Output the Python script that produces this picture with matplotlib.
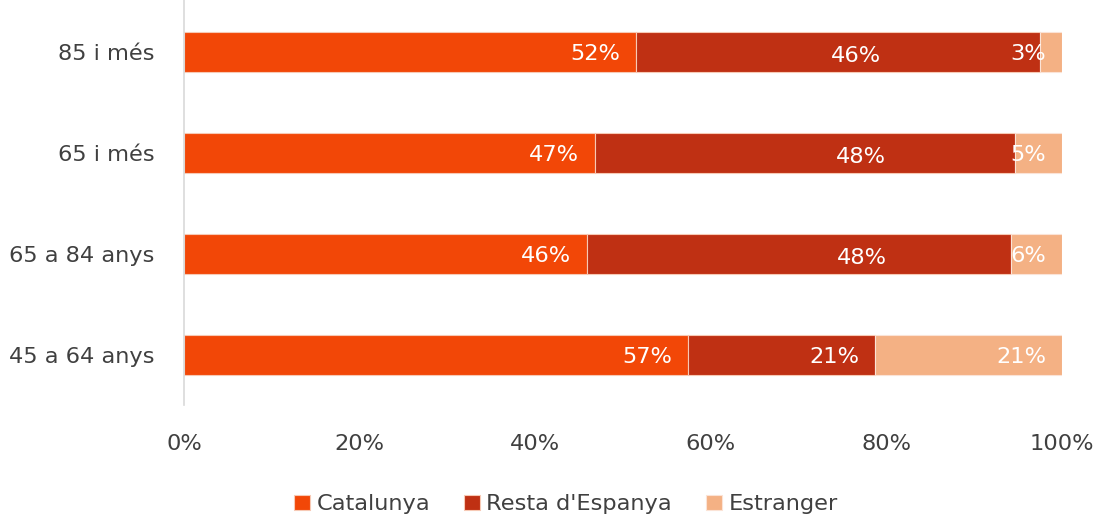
import matplotlib.pyplot as plt
import numpy as np

plt.rcParams['font.family'] = ['DejaVu Sans']

categories = ["45 a 64 anys", "65 a 84 anys", "65 i més", "85 i més"]
catalunya = [57.4, 45.9, 46.8, 51.5]
resta = [21.3, 48.3, 47.8, 46.0]
estranger = [21.3, 5.8, 5.4, 2.5]
labels_cat = ["57%", "46%", "47%", "52%"]
labels_resta = ["21%", "48%", "48%", "46%"]
labels_estr = ["21%", "6%", "5%", "3%"]

# where the Resta labels sit in the original (x, in %)
resta_label_x = [76.8, 77.2, 77.1, 76.5]

c_cat = "#F24707"
c_resta = "#BF3013"
c_estr = "#F4B184"

fig = plt.figure(figsize=(11.03, 5.19), dpi=100)
ax = fig.add_axes([184/1103, 1-405/519, 878/1103, 405/519])

y = np.arange(len(categories))
h = 0.4
left2 = np.array(catalunya)
left3 = left2 + np.array(resta)
ax.barh(y, catalunya, height=h, color=c_cat, edgecolor="#f7c9b5", linewidth=0.8, label="Catalunya")
ax.barh(y, resta, left=left2, height=h, color=c_resta, edgecolor="#f7c9b5", linewidth=0.8, label="Resta d'Espanya")
ax.barh(y, estranger, left=left3, height=h, color=c_estr, edgecolor="#fbe3d6", linewidth=0.8, label="Estranger")

fs = 16.2
pad = 1.8
for i in range(len(categories)):
    ax.text(catalunya[i] - pad, y[i] - 0.02, labels_cat[i], color="white", fontsize=fs, ha="right", va="center")
    if i == 0:
        ax.text(left3[i] - pad, y[i] - 0.02, labels_resta[i], color="white", fontsize=fs, ha="right", va="center")
    else:
        ax.text(resta_label_x[i], y[i] - 0.04, labels_resta[i], color="white", fontsize=fs, ha="center", va="center")
    ax.text(100 - pad, y[i] - 0.02, labels_estr[i], color="white", fontsize=fs, ha="right", va="center")

ax.set_xlim(0, 100)
ax.set_ylim(-0.495, 3.515)
ax.set_xticks([0, 20, 40, 60, 80, 100])
ax.set_xticklabels(["0%", "20%", "40%", "60%", "80%", "100%"])
ax.set_yticks(y)
ax.set_yticklabels(categories)
ax.tick_params(axis="both", length=0, labelsize=fs, labelcolor="#404040")
ax.tick_params(axis="y", pad=21)
ax.tick_params(axis="x", pad=21)
for s in ["top", "right", "bottom"]:
    ax.spines[s].set_visible(False)
ax.spines["left"].set_color("#d9d9d9")
ax.spines["left"].set_linewidth(1.2)

leg = fig.legend(loc="lower center", bbox_to_anchor=(0.513, -0.03), ncol=3, frameon=False,
                 fontsize=fs, handlelength=0.7, handleheight=0.7, handletextpad=0.3, columnspacing=1.5)
for t in leg.get_texts():
    t.set_color("#404040")

fig.savefig("out.png", dpi=100)
